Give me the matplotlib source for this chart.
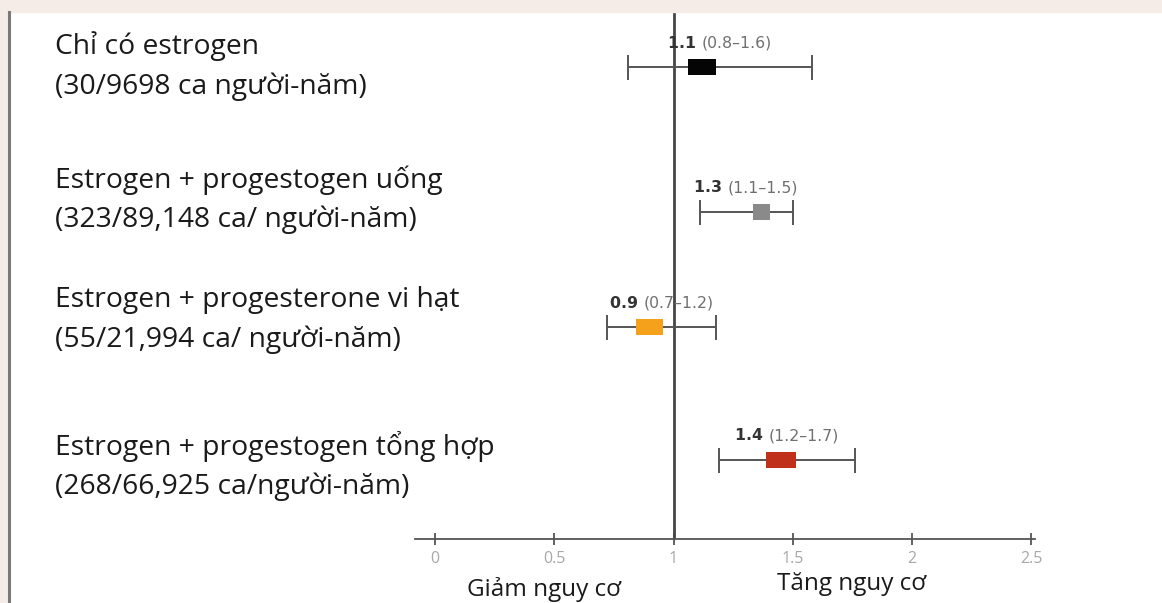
import numpy as np
import matplotlib.pyplot as plt
from matplotlib import transforms
from matplotlib.patches import Rectangle

# du lieu
nhom = ["Chỉ có estrogen\n(30/9698 ca người-năm)",
        "Estrogen + progestogen uống\n(323/89,148 ca/ người-năm)",
        "Estrogen + progesterone vi hạt\n(55/21,994 ca/ người-năm)",
        "Estrogen + progestogen tổng hợp\n(268/66,925 ca/người-năm)"]
hr_nhan = ["1.1", "1.3", "0.9", "1.4"]
ci_nhan = ["(0.8–1.6)", "(1.1–1.5)", "(0.7–1.2)", "(1.2–1.7)"]
hr = [1.12, 1.37, 0.90, 1.45]
ci_lo = [0.81, 1.11, 0.72, 1.19]
ci_hi = [1.58, 1.50, 1.18, 1.76]
tick_vals = [0, 0.5, 1, 1.5, 2, 2.5]
tick_txt = ["0", "0.5", "1", "1.5", "2", "2.5"]

# bo cuc (pixel)
row_y = [67, 212, 327, 460]
text_y = [66, 200, 320, 466]
box_w = [0.115, 0.07, 0.115, 0.125]
mau = ["#050505", "#8a8a8a", "#f5a11c", "#c0311c"]

W, H = 1162, 603
x0, unit = 435, 238.5        # pixel cua x=0, pixel cho 1 don vi
fig = plt.figure(figsize=(W / 100, H / 100), dpi=100)
fig.patch.set_facecolor("white")
# nen hong o tren va ben trai
fig.patches.append(Rectangle((0, 1 - 12/H), 1, 12/H, transform=fig.transFigure,
                             color="#f5ece8", zorder=0))
fig.patches.append(Rectangle((0, 0), 7/W, 1, transform=fig.transFigure,
                             color="#f5ece8", zorder=0))
fig.lines.append(plt.Line2D([9/W, 9/W], [0, 1 - 12/H], transform=fig.transFigure,
                            color="#7a7a7a", lw=2.2))

ax = fig.add_axes([415/W, 64/H, 620/W, 527/H])
ax.set_xlim((415 - x0) / unit, (1035 - x0) / unit)
ax.set_ylim(539, 12)
ax.patch.set_alpha(0)
for s in ["top", "right", "left"]:
    ax.spines[s].set_visible(False)
ax.spines["bottom"].set_color("#555555")
ax.spines["bottom"].set_linewidth(1.3)
ax.set_yticks([])
ax.set_xticks(tick_vals)
ax.set_xticklabels(tick_txt)
ax.tick_params(axis="x", direction="inout", length=9, width=1.3, color="#555555",
               labelcolor="#a8a8a8", labelsize=11.5, pad=4)
for lb in ax.get_xticklabels():
    lb.set_family("Open Sans")

ax.axvline(1, color="#454545", lw=2, zorder=2)

ax.errorbar(hr, row_y, xerr=[np.array(hr) - np.array(ci_lo), np.array(ci_hi) - np.array(hr)],
            fmt="none", ecolor="#555555", elinewidth=1.4, capsize=9, capthick=1.4, zorder=3)
ax.barh(row_y, box_w, left=np.array(hr) - np.array(box_w) / 2, height=16, color=mau, zorder=4)

renderer = fig.canvas.get_renderer()
for i in range(4):
    xc = (ci_lo[i] + ci_hi[i]) / 2
    yl = row_y[i] - 24
    t1 = ax.text(xc, yl, hr_nhan[i] + " ", fontsize=11.3, fontweight="bold", color="#333333",
                 family="DejaVu Sans", ha="left", va="center")
    t2 = ax.text(xc, yl, ci_nhan[i], fontsize=11.3, color="#707070", family="DejaVu Sans",
                 ha="left", va="center")
    w1 = t1.get_window_extent(renderer).width
    w2 = t2.get_window_extent(renderer).width
    tot = w1 + w2
    t1.set_transform(transforms.offset_copy(ax.transData, fig, x=-tot / 2, y=0, units="dots"))
    t2.set_transform(transforms.offset_copy(ax.transData, fig, x=-tot / 2 + w1, y=0, units="dots"))

tr = transforms.blended_transform_factory(fig.transFigure, ax.transData)
for i in range(4):
    ax.text(55/W, text_y[i], nhom[i], transform=tr, fontsize=20.3, family="Open Sans",
            color="#1a1a1a", ha="left", va="center", linespacing=1.5)

ax.text((544 - x0) / unit, 590, "Giảm nguy cơ", fontsize=17.5, family="Open Sans",
        color="#1a1a1a", ha="center", va="center", clip_on=False)
ax.text((852 - x0) / unit, 584, "Tăng nguy cơ", fontsize=17.5, family="Open Sans",
        color="#1a1a1a", ha="center", va="center", clip_on=False)

fig.savefig("out.png", dpi=100)
